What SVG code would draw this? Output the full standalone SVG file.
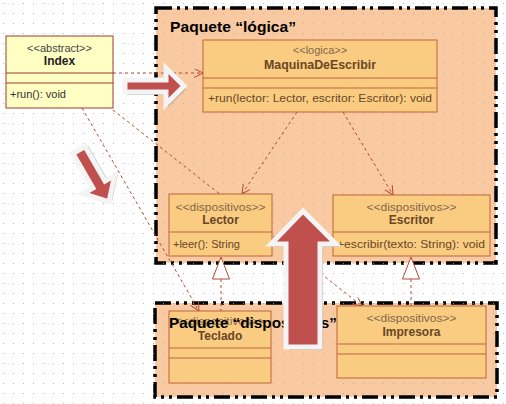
<svg xmlns="http://www.w3.org/2000/svg" width="506" height="404" viewBox="0 0 506 404">
<defs>
<pattern id="grid" x="3" y="3" width="10" height="10" patternUnits="userSpaceOnUse">
<rect x="0" y="0" width="1" height="1" fill="#a8a8a8"/>
</pattern>
<marker id="open" markerUnits="userSpaceOnUse" markerWidth="10" markerHeight="10" refX="9" refY="4.5" orient="auto">
<path d="M0,0 L9,4.5 L0,9" fill="none" stroke="#b04a32" stroke-width="1"/>
</marker>
<style>
.pkg{fill:#f9c9a2;stroke:#000;stroke-width:3.5;stroke-dasharray:16 5 3 5 3 5}
.box{fill:#f9cc82;stroke:#c0653a;stroke-width:1}
.abs{fill:#ffffc4;stroke:#a03a30;stroke-width:1}
.div{stroke:#c0653a;stroke-width:1}
.st{font-family:"Liberation Sans",Arial,sans-serif;font-size:11px;fill:#86674a;text-anchor:middle}
.nm{font-family:"Liberation Sans",Arial,sans-serif;font-size:12px;font-weight:bold;fill:#6a4624;text-anchor:middle}
.op{font-family:"Liberation Sans",Arial,sans-serif;font-size:11px;fill:#6a4624}
.ttl{font-family:"Liberation Sans",Arial,sans-serif;font-size:15px;font-weight:bold;fill:#000}
.dep{fill:none;stroke:#b04a32;stroke-width:1;stroke-dasharray:3 3}
.tri{fill:#fff;stroke:#b04a32;stroke-width:1}
.arr{fill:#c0504d;stroke:#f4f4f4;stroke-width:5;stroke-linejoin:miter}
.sh{fill:#8a8a8a;opacity:0.55}
</style>
</defs>
<rect x="0" y="0" width="506" height="404" fill="#fff"/>
<g id="pkg-logica">
<rect class="pkg" x="156" y="8" width="340" height="255"/>
</g>
<g id="pkg-dispositivos">
<rect class="pkg" x="155" y="303" width="342" height="94"/>
</g>
<rect x="0" y="0" width="506" height="404" fill="url(#grid)" opacity="0.8"/>
<text class="ttl" x="170" y="32" textLength="126" lengthAdjust="spacingAndGlyphs">Paquete “lógica”</text>

<g id="connectors">
<line class="dep" x1="113" y1="73" x2="203" y2="73" marker-end="url(#open)"/>
<line class="dep" x1="82" y1="108" x2="199" y2="311" marker-end="url(#open)"/>
<line class="dep" x1="113" y1="110" x2="362" y2="306" marker-end="url(#open)"/>
<line class="dep" x1="297" y1="112" x2="242" y2="194" marker-end="url(#open)"/>
<line class="dep" x1="343" y1="112" x2="393" y2="195" marker-end="url(#open)"/>
<line class="dep" x1="221" y1="279" x2="221" y2="311"/>
<polygon class="tri" points="221,257 212.5,279 229.5,279"/>
<line class="dep" x1="411" y1="279" x2="411" y2="306"/>
<polygon class="tri" points="411,257 402.5,279 419.5,279"/>
</g>

<g id="node-index">
<rect class="abs" x="6" y="36" width="107" height="72"/>
<line x1="6" y1="73" x2="113" y2="73" stroke="#a03a30"/>
<line x1="6" y1="83" x2="113" y2="83" stroke="#a03a30"/>
<text class="st" x="59.5" y="52" style="fill:#444">&lt;&lt;abstract&gt;&gt;</text>
<text class="nm" x="59.5" y="65" style="fill:#222">Index</text>
<text class="op" x="10" y="98" style="fill:#333">+run(): void</text>
</g>

<g id="node-maquina">
<rect class="box" x="203" y="40" width="234" height="72"/>
<line class="div" x1="203" y1="78" x2="437" y2="78"/>
<line class="div" x1="203" y1="88" x2="437" y2="88"/>
<text class="st" x="320" y="54">&lt;&lt;logica&gt;&gt;</text>
<text class="nm" x="320" y="69" textLength="112" lengthAdjust="spacingAndGlyphs">MaquinaDeEscribir</text>
<text class="op" x="208" y="102" textLength="224" lengthAdjust="spacingAndGlyphs">+run(lector: Lector, escritor: Escritor): void</text>
</g>

<g id="node-lector">
<rect class="box" x="169" y="194" width="103" height="62"/>
<line class="div" x1="169" y1="232" x2="272" y2="232"/>
<text class="st" x="220.5" y="211" textLength="90" lengthAdjust="spacingAndGlyphs">&lt;&lt;dispositivos&gt;&gt;</text>
<text class="nm" x="220.5" y="224">Lector</text>
<text class="op" x="173" y="248">+leer(): String</text>
</g>

<g id="node-escritor">
<rect class="box" x="333" y="195" width="157" height="61"/>
<line class="div" x1="333" y1="232" x2="490" y2="232"/>
<text class="st" x="411.5" y="211" textLength="90" lengthAdjust="spacingAndGlyphs">&lt;&lt;dispositivos&gt;&gt;</text>
<text class="nm" x="411.5" y="224">Escritor</text>
<text class="op" x="337" y="248" textLength="148" lengthAdjust="spacingAndGlyphs">+escribir(texto: String): void</text>
</g>

<g id="node-teclado">
<rect class="box" x="169" y="311" width="102" height="72"/>
<line class="div" x1="169" y1="348" x2="271" y2="348"/>
<line class="div" x1="169" y1="358" x2="271" y2="358"/>
<text class="st" x="220" y="325" textLength="90" lengthAdjust="spacingAndGlyphs">&lt;&lt;dispositivos&gt;&gt;</text>
<text class="nm" x="220" y="340">Teclado</text>
</g>

<g id="node-impresora">
<rect class="box" x="337" y="306" width="149" height="72"/>
<line class="div" x1="337" y1="344" x2="486" y2="344"/>
<line class="div" x1="337" y1="354" x2="486" y2="354"/>
<text class="st" x="411.5" y="322" textLength="90" lengthAdjust="spacingAndGlyphs">&lt;&lt;dispositivos&gt;&gt;</text>
<text class="nm" x="411.5" y="336">Impresora</text>
</g>

<text class="ttl" x="169" y="328" textLength="168" lengthAdjust="spacingAndGlyphs">Paquete “dispositivos”</text>

<g id="arrows">
<polygon class="sh" points="127,83 168,83 168,71 186,89 168,107 168,95 127,95"/>
<polygon class="arr" points="125,80 166,80 166,68 184,86 166,104 166,92 125,92"/>
<g transform="translate(79,150) rotate(60)">
<polygon class="sh" transform="translate(1,-3)" points="0,-7 40,-7 40,-18 60,0 40,18 40,7 0,7"/>
<polygon class="arr" points="0,-7 40,-7 40,-18 60,0 40,18 40,7 0,7"/>
</g>
<polygon class="sh" points="306,214 339,247 323,247 323,350 289,350 289,247 274,247"/>
<polygon class="arr" points="303,211 336,244 320,244 320,347 286,347 286,244 271,244"/>
</g>
</svg>
